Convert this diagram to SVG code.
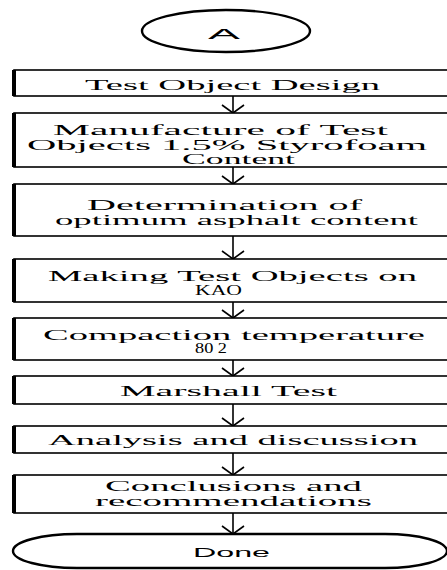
<svg xmlns="http://www.w3.org/2000/svg" width="447" height="570" viewBox="0 0 447 570">
<style>
.box{fill:#fff;stroke:#000;stroke-width:1.6}
.bar{fill:#000}
.term{fill:#fff;stroke:#000;stroke-width:2.4}
.c line,.c polyline{stroke:#000;stroke-width:1.6;fill:none}
</style>
<rect width="447" height="570" fill="#fff"/>
<g class="c" id="connectors">
<line x1="233" y1="96" x2="233" y2="113"/><polyline points="222,105 233,113 244,105"/>
<line x1="233" y1="167" x2="233" y2="184"/><polyline points="222,176 233,184 244,176"/>
<line x1="233" y1="236" x2="233" y2="259"/><polyline points="222,251 233,259 244,251"/>
<line x1="233" y1="302" x2="233" y2="318"/><polyline points="222,310 233,318 244,310"/>
<line x1="233" y1="360" x2="233" y2="376"/><polyline points="222,368 233,376 244,368"/>
<line x1="233" y1="404" x2="233" y2="426"/><polyline points="222,418 233,426 244,418"/>
<line x1="233" y1="453" x2="233" y2="475"/><polyline points="222,467 233,475 244,467"/>
<line x1="233" y1="513" x2="233" y2="534"/><polyline points="222,526 233,534 244,526"/>
</g>
<g id="start">
<ellipse class="term" cx="226" cy="31" rx="84" ry="21"/>
<text font-family="Liberation Sans, Arial, sans-serif" font-size="15" x="208" y="39" textLength="32" lengthAdjust="spacingAndGlyphs">A</text>
</g>
<g font-family="Liberation Serif, Times New Roman, serif" font-size="14" fill="#000">
<g id="n1">
<rect class="box" x="14" y="70" width="440" height="26"/><rect class="bar" x="12" y="70" width="4" height="26"/>
<text x="85" y="90" textLength="295" lengthAdjust="spacingAndGlyphs">Test Object Design</text>
</g>
<g id="n2">
<rect class="box" x="14" y="113" width="440" height="54"/><rect class="bar" x="12" y="113" width="4" height="54"/>
<text x="53" y="135" textLength="335" lengthAdjust="spacingAndGlyphs">Manufacture of Test</text>
<text x="27" y="150" textLength="400" lengthAdjust="spacingAndGlyphs">Objects 1.5% Styrofoam</text>
<text x="182" y="164" textLength="113" lengthAdjust="spacingAndGlyphs">Content</text>
</g>
<g id="n3">
<rect class="box" x="14" y="184" width="440" height="52"/><rect class="bar" x="12" y="184" width="4" height="52"/>
<text x="87" y="210" textLength="275" lengthAdjust="spacingAndGlyphs">Determination of</text>
<text x="55" y="225" textLength="363" lengthAdjust="spacingAndGlyphs">optimum asphalt content</text>
</g>
<g id="n4">
<rect class="box" x="14" y="259" width="440" height="43"/><rect class="bar" x="12" y="259" width="4" height="43"/>
<text x="48" y="281" textLength="369" lengthAdjust="spacingAndGlyphs">Making Test Objects on</text>
<text x="195" y="295" textLength="47" lengthAdjust="spacingAndGlyphs">KAO</text>
</g>
<g id="n5">
<rect class="box" x="14" y="318" width="440" height="42"/><rect class="bar" x="12" y="318" width="4" height="42"/>
<text x="43" y="340" textLength="382" lengthAdjust="spacingAndGlyphs">Compaction temperature</text>
<text x="195" y="353" textLength="32" lengthAdjust="spacingAndGlyphs">80 2</text>
</g>
<g id="n6">
<rect class="box" x="14" y="376" width="440" height="28"/><rect class="bar" x="12" y="376" width="4" height="28"/>
<text x="120" y="396" textLength="217" lengthAdjust="spacingAndGlyphs">Marshall Test</text>
</g>
<g id="n7">
<rect class="box" x="14" y="426" width="440" height="27"/><rect class="bar" x="12" y="426" width="4" height="27"/>
<text x="48" y="445" textLength="370" lengthAdjust="spacingAndGlyphs">Analysis and discussion</text>
</g>
<g id="n8">
<rect class="box" x="14" y="475" width="440" height="38"/><rect class="bar" x="12" y="475" width="4" height="38"/>
<text x="105" y="491" textLength="257" lengthAdjust="spacingAndGlyphs">Conclusions and</text>
<text x="95" y="506" textLength="277" lengthAdjust="spacingAndGlyphs">recommendations</text>
</g>
</g>
<g id="end">
<path class="term" d="M77 534 H385 A62 17 0 0 1 385 568 H77 A64 17 0 0 1 77 534 Z"/>
<text font-family="Liberation Sans, Arial, sans-serif" font-size="12" x="193" y="557" textLength="77" lengthAdjust="spacingAndGlyphs">Done</text>
</g>
</svg>
